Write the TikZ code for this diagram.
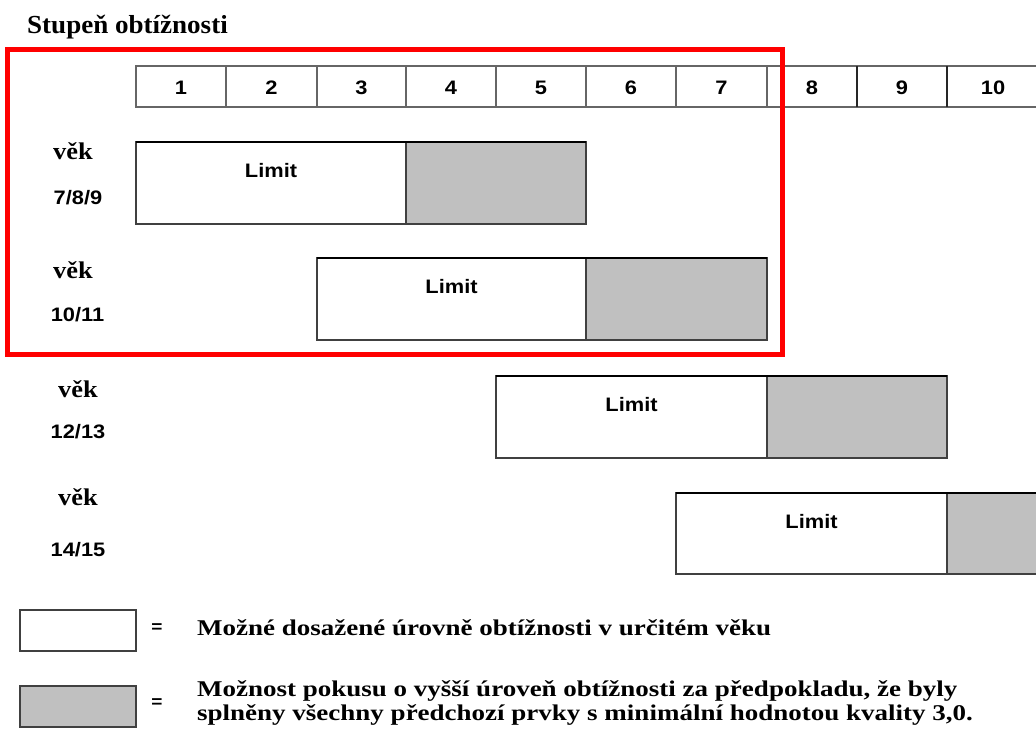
\documentclass[tikz,border=0pt]{standalone}
\usepackage{fontspec}
\newfontfamily\titlefont[FakeStretch=1.04]{Liberation Serif}
\newfontfamily\legfont[FakeStretch=1.2]{Liberation Serif}
\newfontfamily\vekfont[FakeStretch=1.1]{Liberation Serif}
\newfontfamily\numfont[FakeStretch=1.12]{Liberation Sans}
\definecolor{shadegray}{RGB}{192,192,192}
\definecolor{framered}{RGB}{255,0,0}
\tikzset{
  numlbl/.style={font=\numfont\bfseries\fontsize{19.5}{22}\selectfont, inner sep=0pt},
  veklbl/.style={font=\vekfont\bfseries\fontsize{24}{28}\selectfont, inner sep=0pt, anchor=base},
  boxline/.style={draw=black!75, line width=1.3pt},
  gridline/.style={draw=black!60, line width=1.3pt},
  shadefill/.style={fill=shadegray},
  legtext/.style={font=\legfont\bfseries\fontsize{22.5}{24}\selectfont, inner sep=0pt, anchor=base west},
  eqsign/.style={font=\numfont\bfseries\fontsize{17}{18}\selectfont, inner sep=0pt}
}
\begin{document}
\begin{tikzpicture}[x=1pt,y=-1pt]
\useasboundingbox (0,0) rectangle (1036,731);
\clip (0,0) rectangle (1036,731);
\fill[white] (0,0) rectangle (1036,731);

% title
\node[font=\titlefont\bfseries\fontsize{26}{30}\selectfont, inner sep=0pt, anchor=base west] (title) at (27,33) {Stupeň obtížnosti};

% number row
\draw[gridline] (136,66) rectangle (1045,107);
\foreach \xx in {226,317,406,496,586,676,767} {\draw[gridline] (\xx,66) -- (\xx,107);}
\foreach \xx in {857,947} {\draw[draw=black!85, line width=1.3pt] (\xx,66) -- (\xx,107);}
\foreach \cx/\t in {181/1,271.5/2,361.5/3,451/4,541/5,631/6,721.5/7,812/8,902/9,993/10}
  {\node[numlbl] (n\t) at (\cx,88) {\t};}

% rows
\foreach \l/\s/\r/\tp/\bt/\i in {136/406/586/142/224/1, 317/586/767/258/340/2, 496/767/947/376/458/3, 676/947/1045/493/574/4} {
  \fill[shadefill] (\s,\tp) rectangle (\r,\bt);
  \draw[boxline] (\l,\tp) rectangle (\r,\bt);
  \draw[boxline] (\s,\tp) -- (\s,\bt);
  \draw[draw=black, line width=1.3pt] (\l,\tp) -- (\r,\tp);
  \node[numlbl] (limit\i) at ({(\l+\s)/2},{\tp+29}) {Limit};
}

% age labels
\node[veklbl] (vek1) at (73,159) {věk};
\node[numlbl] (age1) at (78,198) {7/8/9};
\node[veklbl] (vek2) at (73,278) {věk};
\node[numlbl] (age2) at (77.5,315) {10/11};
\node[veklbl] (vek3) at (78,397) {věk};
\node[numlbl] (age3) at (78,432) {12/13};
\node[veklbl] (vek4) at (78,505) {věk};
\node[numlbl] (age4) at (78,549.5) {14/15};

% red frame
\draw[draw=framered, line width=5pt] (7.5,49.5) rectangle (782.5,354.5);

% legend
\draw[boxline] (20,610) rectangle (136,651);
\fill[shadefill] (20,686) rectangle (136,727);
\draw[boxline] (20,686) rectangle (136,727);
\node[eqsign] (eq1) at (157,628) {=};
\node[eqsign] (eq2) at (157,703) {=};
\node[legtext] (leg1) at (197,635) {Možné dosažené úrovně obtížnosti v určitém věku};
\node[legtext] (leg2) at (197,696) {Možnost pokusu o vyšší úroveň obtížnosti za předpokladu, že byly};
\node[legtext] (leg3) at (197,720) {splněny všechny předchozí prvky s minimální hodnotou kvality 3,0.};
\end{tikzpicture}
\end{document}
